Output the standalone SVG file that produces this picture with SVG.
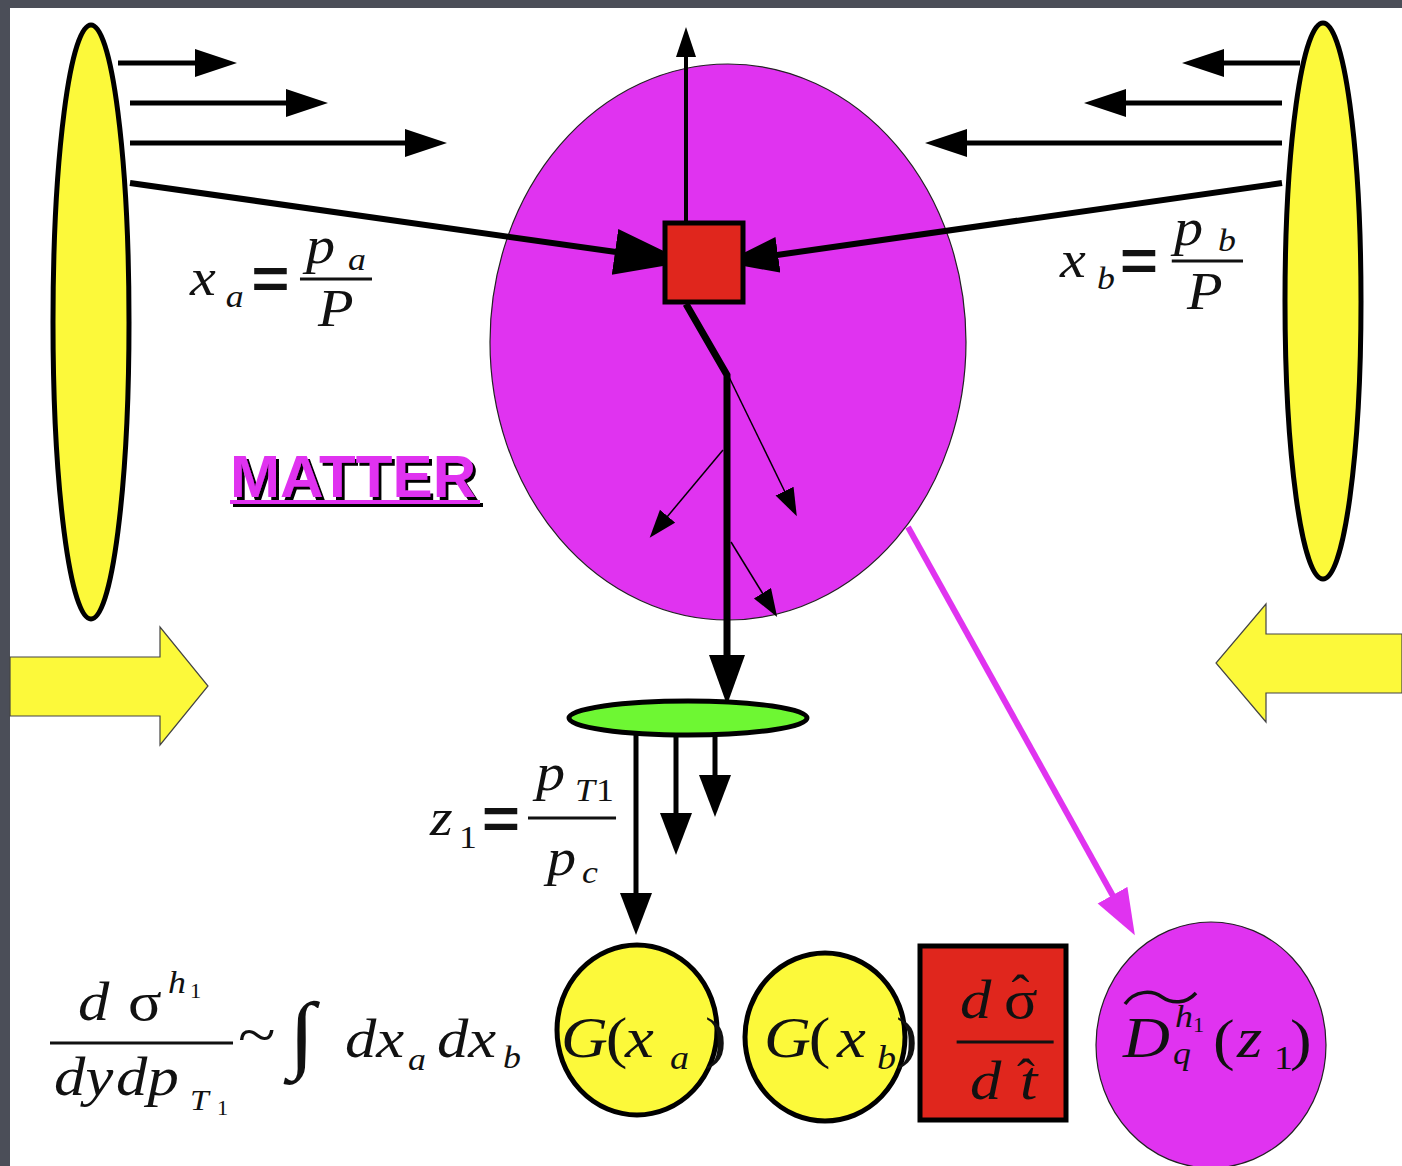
<svg xmlns="http://www.w3.org/2000/svg" width="1402" height="1166" viewBox="0 0 1402 1166">
<defs>
<style>
.m{font-family:"Liberation Serif","Times New Roman",serif;font-style:italic;fill:#111}
.u{font-style:normal}
.eq{font-family:"Liberation Sans",Arial,sans-serif;font-style:normal;font-weight:bold}
.ln{stroke:#000;fill:none}
.yel{fill:#fcf93a;stroke:#000;stroke-width:5}
.bigarr{fill:#fcf93a;stroke:#444;stroke-width:1.2}
</style>
<filter id="shadow" x="-5%" y="-10%" width="115%" height="130%">
<feDropShadow dx="3" dy="3" stdDeviation="0.6" flood-color="#000" flood-opacity="1"/>
</filter>
<marker id="hH" markerUnits="userSpaceOnUse" markerWidth="44" markerHeight="30" refX="1" refY="14" orient="auto"><path d="M0,0 L42,14 L0,28 Z" fill="#000"/></marker>
<marker id="hUp" markerUnits="userSpaceOnUse" markerWidth="32" markerHeight="22" refX="1" refY="10" orient="auto"><path d="M0,0 L30,10 L0,20 Z" fill="#000"/></marker>
<marker id="hBig" markerUnits="userSpaceOnUse" markerWidth="74" markerHeight="48" refX="1" refY="23" orient="auto"><path d="M0,0 L72,23 L0,46 Z" fill="#000"/></marker>
<marker id="hMid" markerUnits="userSpaceOnUse" markerWidth="56" markerHeight="38" refX="1" refY="18" orient="auto"><path d="M0,0 L54,18 L0,36 Z" fill="#000"/></marker>
<marker id="hDn" markerUnits="userSpaceOnUse" markerWidth="52" markerHeight="38" refX="1" refY="18" orient="auto"><path d="M0,0 L50,18 L0,36 Z" fill="#000"/></marker>
<marker id="hThin" markerUnits="userSpaceOnUse" markerWidth="30" markerHeight="22" refX="1" refY="10" orient="auto"><path d="M0,0 L28,10 L0,20 Z" fill="#000"/></marker>
<marker id="hG" markerUnits="userSpaceOnUse" markerWidth="44" markerHeight="34" refX="1" refY="16" orient="auto"><path d="M0,0 L42,16 L0,32 Z" fill="#000"/></marker>
<marker id="hMag" markerUnits="userSpaceOnUse" markerWidth="48" markerHeight="36" refX="1" refY="17" orient="auto"><path d="M0,0 L46,17 L0,34 Z" fill="#e033f0"/></marker>
</defs>

<rect x="0" y="0" width="1402" height="1166" fill="#fff"/>
<rect x="0" y="0" width="1402" height="8" fill="#4b4e58"/>
<rect x="0" y="0" width="10" height="1166" fill="#4b4e58"/>

<g id="beamA"><ellipse class="yel" cx="91" cy="322" rx="38" ry="297"/></g>
<g id="beamB"><ellipse class="yel" cx="1323" cy="301" rx="38" ry="278"/></g>

<g id="arrowLeftBig"><path class="bigarr" d="M10,657 H160 V627 L208,686 L160,745 V716 H10 Z"/></g>
<g id="arrowRightBig"><path class="bigarr" d="M1402,634 H1266 V604 L1216,663 L1266,722 V693 H1402 Z"/></g>

<g id="matter"><ellipse cx="728" cy="342" rx="238" ry="278" fill="#e033f0" stroke="#222" stroke-width="1.2"/></g>

<g id="matterLabel" font-family="'Liberation Sans',Arial,sans-serif" font-weight="bold" font-size="60" filter="url(#shadow)">
<text x="230" y="497" fill="#e033f0" textLength="246">MATTER</text>
<rect x="230" y="500" width="250" height="4" fill="#e033f0"/>
</g>

<g id="connectors">
<line class="ln" stroke-width="5" x1="118" y1="63" x2="196" y2="63" marker-end="url(#hH)"/>
<line class="ln" stroke-width="5" x1="130" y1="103" x2="287" y2="103" marker-end="url(#hH)"/>
<line class="ln" stroke-width="5" x1="130" y1="143" x2="406" y2="143" marker-end="url(#hH)"/>
<line class="ln" stroke-width="5" x1="1300" y1="63" x2="1223" y2="63" marker-end="url(#hH)"/>
<line class="ln" stroke-width="5" x1="1282" y1="103" x2="1125" y2="103" marker-end="url(#hH)"/>
<line class="ln" stroke-width="5" x1="1282" y1="143" x2="966" y2="143" marker-end="url(#hH)"/>
<line class="ln" stroke-width="6" x1="130" y1="183" x2="616" y2="252" marker-end="url(#hBig)"/>
<line class="ln" stroke-width="6" x1="1282" y1="183" x2="777" y2="255" marker-end="url(#hMid)"/>
<line class="ln" stroke-width="4" x1="686" y1="221" x2="686" y2="56" marker-end="url(#hUp)"/>
<polyline class="ln" stroke-width="7" points="686,304 727,375 727,656" marker-end="url(#hDn)"/>
<line class="ln" stroke-width="1.5" x1="729" y1="377" x2="785" y2="492" marker-end="url(#hThin)"/>
<line class="ln" stroke-width="1.5" x1="723" y1="450" x2="667" y2="517" marker-end="url(#hThin)"/>
<line class="ln" stroke-width="1.5" x1="731" y1="542" x2="763" y2="594" marker-end="url(#hThin)"/>
<line class="ln" stroke-width="5" x1="636" y1="735" x2="636" y2="894" marker-end="url(#hG)"/>
<line class="ln" stroke-width="5" x1="676" y1="735" x2="676" y2="814" marker-end="url(#hG)"/>
<line class="ln" stroke-width="5" x1="715" y1="735" x2="715" y2="776" marker-end="url(#hG)"/>
<line stroke="#e033f0" stroke-width="6" x1="908" y1="527" x2="1113" y2="896" marker-end="url(#hMag)"/>
</g>

<g id="hardProcess"><rect x="665" y="223" width="78" height="79" fill="#e0261d" stroke="#000" stroke-width="5"/></g>

<g id="fragment"><ellipse cx="688" cy="718" rx="119" ry="17" fill="#6ef733" stroke="#000" stroke-width="5"/></g>

<g id="labelXa" class="m" transform="matrix(1.12,0,0,1,-22.8,0)">
<text x="190" y="295" font-size="52">x</text>
<text x="222" y="307" font-size="32">a</text>
<text x="245" y="298" font-size="58" class="eq">=</text>
<text x="293.6" y="263" font-size="52">p</text>
<text x="331" y="270" font-size="32">a</text>
<line x1="288.2" y1="279" x2="352.5" y2="279" stroke="#111" stroke-width="3"/>
<text x="304.3" y="326" font-size="52">P</text>
</g>

<g id="labelXb" class="m" transform="matrix(1.12,0,0,1,-127.2,0)">
<text x="1060" y="277" font-size="52">x</text>
<text x="1093" y="289" font-size="32">b</text>
<text x="1113.6" y="280" font-size="58" class="eq">=</text>
<text x="1161.8" y="245" font-size="52">p</text>
<text x="1201" y="251" font-size="32">b</text>
<line x1="1159.8" y1="261" x2="1223.4" y2="261" stroke="#111" stroke-width="3"/>
<text x="1173.4" y="309" font-size="52">P</text>
</g>

<g id="labelZ1" class="m" transform="matrix(1.12,0,0,1,-51.6,0)">
<text x="430" y="835" font-size="52">z</text>
<text x="455.9" y="848" font-size="32" class="u">1</text>
<text x="476.4" y="838" font-size="58" class="eq">=</text>
<text x="524.6" y="790" font-size="52">p</text>
<text x="559.5" y="801" font-size="32">T</text>
<text x="578.2" y="801" font-size="32" class="u">1</text>
<line x1="517.5" y1="818" x2="596.1" y2="818" stroke="#111" stroke-width="3"/>
<text x="534.5" y="875" font-size="52">p</text>
<text x="565.7" y="883" font-size="32">c</text>
</g>

<g id="formula" class="m" transform="matrix(1.12,0,0,1,-6,0)">
<text x="75" y="1020" font-size="56">d</text>
<text x="119.6" y="1020" font-size="56" class="u">σ</text>
<text x="155.4" y="993" font-size="32">h</text>
<text x="175" y="998" font-size="20" class="u">1</text>
<line x1="50" y1="1043" x2="213.4" y2="1043" stroke="#111" stroke-width="3"/>
<text x="53.6" y="1095" font-size="56">dy</text>
<text x="109" y="1095" font-size="56">dp</text>
<text x="175" y="1110" font-size="30">T</text>
<text x="199.1" y="1115" font-size="20" class="u">1</text>
<text x="217.9" y="1055" font-size="62" class="u">~</text>
<text x="263" y="1062" font-size="86" class="u">∫</text>
<text x="313.4" y="1057" font-size="56">dx</text>
<text x="369.6" y="1070" font-size="32">a</text>
<text x="395.5" y="1057" font-size="56">dx</text>
<text x="454.5" y="1068" font-size="32">b</text>
</g>

<g id="Gxa">
<ellipse class="yel" stroke-width="4" cx="637" cy="1030" rx="80" ry="85"/>
<g class="m" transform="matrix(1.12,0,0,1,-67.3,0)">
<text font-size="58" y="1057"><tspan x="561">G</tspan><tspan x="601" class="u">(</tspan><tspan x="618.1">x</tspan><tspan x="658.3" y="1069" font-size="34">a</tspan><tspan x="689.6" y="1057" class="u">)</tspan></text>
</g>
</g>

<g id="Gxb">
<ellipse class="yel" stroke-width="4" cx="825" cy="1037" rx="80" ry="84"/>
<g class="m" transform="matrix(1.12,0,0,1,-91.7,0)">
<text font-size="58" y="1057"><tspan x="764">G</tspan><tspan x="804" class="u">(</tspan><tspan x="829.2">x</tspan><tspan x="864.9" y="1069" font-size="34">b</tspan><tspan x="881.9" y="1057" class="u">)</tspan></text>
</g>
</g>

<g id="dsigma">
<rect x="920" y="946" width="146" height="174" fill="#e0261d" stroke="#000" stroke-width="5"/>
<g class="m" transform="matrix(1.12,0,0,1,-115.2,0)">
<text font-size="56" y="1018"><tspan x="960">d</tspan><tspan x="999.3" class="u">σ</tspan><tspan x="1006" y="1009" class="u" font-size="48">ˆ</tspan></text>
<line x1="957" y1="1042" x2="1043.6" y2="1042" stroke="#111" stroke-width="3"/>
<text font-size="56" y="1099"><tspan x="968.9">d</tspan><tspan x="1013.6">t</tspan><tspan x="1011" y="1093" class="u" font-size="48">ˆ</tspan></text>
</g>
</g>

<g id="Dfrag">
<ellipse cx="1211" cy="1045" rx="115" ry="123" fill="#e033f0" stroke="#222" stroke-width="1.2"/>
<path d="M1125,1004 C1135,990 1152,990 1162,997 C1172,1004 1186,1004 1196,993" fill="none" stroke="#111" stroke-width="3.5"/>
<g class="m" transform="matrix(1.12,0,0,1,-134.8,0)">
<text font-size="58" y="1057"><tspan x="1123">D</tspan><tspan x="1169.4" y="1027" font-size="32">h</tspan><tspan x="1185.5" y="1032" font-size="20" class="u">1</tspan><tspan x="1167.6" y="1064" font-size="32">q</tspan><tspan x="1203.4" y="1059" class="u">(</tspan><tspan x="1224.8" y="1057">z</tspan><tspan x="1257.8" y="1069" font-size="34" class="u">1</tspan><tspan x="1272.1" y="1059" class="u">)</tspan></text>
</g>
</g>
</svg>
